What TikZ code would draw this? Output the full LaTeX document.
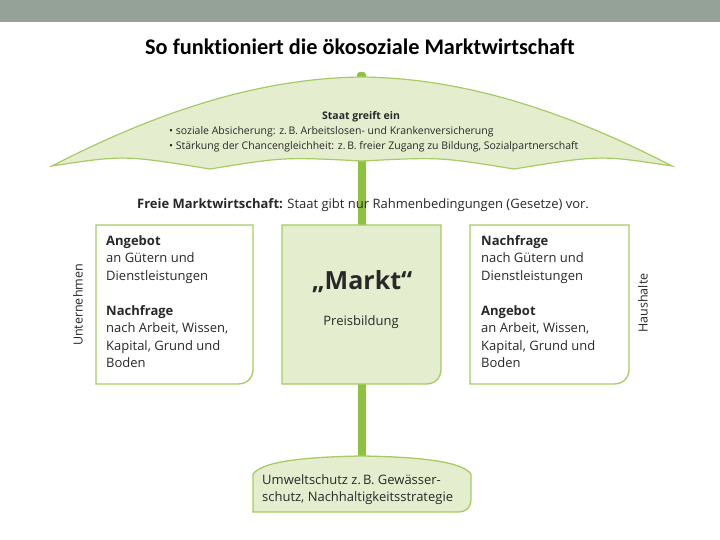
\documentclass[tikz,border=0pt]{standalone}
\usepackage{fontspec}
\setmainfont{Open Sans}
\newfontfamily\titlefont[Ligatures=NoCommon]{Carlito}
\definecolor{topbar}{RGB}{148,162,152}
\definecolor{polegreen}{RGB}{141,194,62}
\definecolor{edgegreen}{RGB}{165,203,98}
\definecolor{lightgreen}{RGB}{228,238,207}
\definecolor{txt}{RGB}{40,40,40}
\tikzset{
  x=1pt, y=-1pt,
  boxline/.style={draw=edgegreen, line width=1.3pt},
  boxtext/.style={align=left, anchor=north west, inner sep=0pt, font=\fontsize{13}{17.5}\selectfont, text=txt},
  sidelabel/.style={rotate=90, inner sep=0pt, font=\fontsize{12.5}{14}\selectfont, text=txt},
}
\begin{document}
\begin{tikzpicture}
\useasboundingbox (0,0) rectangle (720,540);
\fill[white] (0,0) rectangle (720,540);
\fill[topbar] (0,0) rectangle (720,22);
\node[font=\titlefont\bfseries\fontsize{22.3}{26}\selectfont, inner sep=0pt] (title) at (360,47) {So funktioniert die ökosoziale Marktwirtschaft};
% pole
\fill[polegreen] (358,80) rectangle (366,460);
\fill[polegreen, rounded corners=3pt] (357,72) rectangle (366,86);
% canopy
\path[boxline, fill=lightgreen, line width=1.2pt] (52,166) .. controls (170,105) and (270,78) .. (362,77)
  .. controls (454,78) and (554,105) .. (672,166)
  .. controls (600,155) .. (514,169)
  .. controls (440,157) .. (362,161)
  .. controls (284,157) .. (210,169)
  .. controls (124,155) .. (52,166) -- cycle;
\node[font=\bfseries\fontsize{10.5}{12}\selectfont, text=txt, inner sep=0pt] (staat) at (361,117) {Staat greift ein};
\node[anchor=north west, align=left, inner sep=0pt, font=\fontsize{10.5}{15}\selectfont, text=txt] (bullets) at (169,126)
  {• soziale Absicherung: z.\,B. Arbeitslosen- und Krankenversicherung\\
   • Stärkung der Chancengleichheit: z.\,B. freier Zugang zu Bildung, Sozialpartnerschaft};
% free market line
\node[font=\fontsize{13}{15}\selectfont, text=txt, inner sep=0pt] (freie) at (363,205)
  {\textbf{Freie Marktwirtschaft:} Staat gibt nur Rahmenbedingungen (Gesetze) vor.};
% boxes
\path[boxline, fill=white] (96,225) -- (253,225) -- (253,369) .. controls (253,378) and (247,384) .. (238,384) -- (96,384) -- cycle;
\path[boxline, fill=lightgreen] (282,225) -- (441,225) -- (441,369) .. controls (441,378) and (435,384) .. (426,384) -- (282,384) -- cycle;
\path[boxline, fill=white] (470,225) -- (629,225) -- (629,369) .. controls (629,378) and (623,384) .. (614,384) -- (470,384) -- cycle;
\node[boxtext] (ltext) at (106,235) {\textbf{Angebot}\\an Gütern und\\Dienstleistungen\\[17.5pt]\textbf{Nachfrage}\\nach Arbeit, Wissen,\\Kapital, Grund und\\Boden};
\node[boxtext] (rtext) at (481,235) {\textbf{Nachfrage}\\nach Gütern und\\Dienstleistungen\\[17.5pt]\textbf{Angebot}\\an Arbeit, Wissen,\\Kapital, Grund und\\Boden};
\node[font=\bfseries\fontsize{25}{30}\selectfont, text=txt, inner sep=0pt] (markt) at (362,282) {„Markt“};
\node[font=\fontsize{13}{15}\selectfont, text=txt, inner sep=0pt] (preis) at (361,322) {Preisbildung};
\node[sidelabel] (unter) at (78,305) {Unternehmen};
\node[sidelabel] (haus) at (643,303) {Haushalte};
% bottom box
\path[boxline, fill=lightgreen] (253,512) -- (253,474) .. controls (262,462) and (300,457) .. (362,456)
  .. controls (424,457) and (462,462) .. (471,474) -- (471,500) .. controls (471,507) and (466,512) .. (459,512) -- cycle;
\node[boxtext] (umwelt) at (262,474) {Umweltschutz z.\,B. Gewässer-\\schutz, Nachhaltigkeitsstrategie};
\end{tikzpicture}
\end{document}
